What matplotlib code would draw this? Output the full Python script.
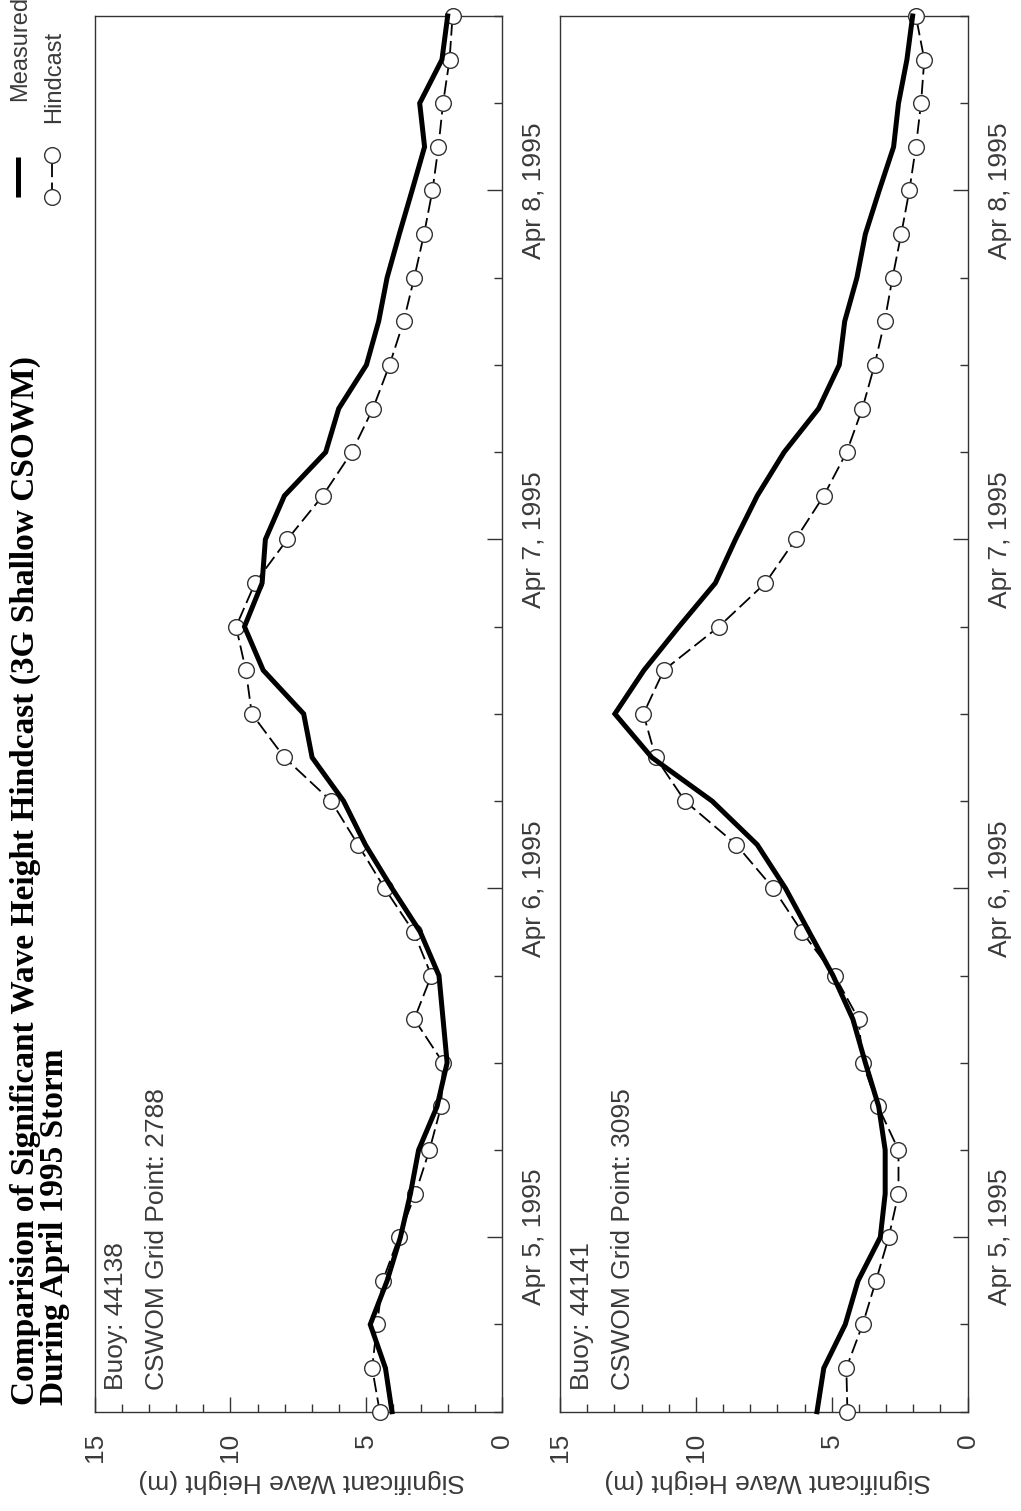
import matplotlib
matplotlib.use("Agg")
import matplotlib.pyplot as plt
from matplotlib.lines import Line2D

# ---------------- data ----------------
hours = [0, 3, 6, 9, 12, 15, 18, 21, 24, 27, 30, 33, 36, 39, 42, 45, 48,
         51, 54, 57, 60, 63, 66, 69, 72, 75, 78, 81, 84, 87, 90, 93, 96]
day_ticks = [12, 36, 60, 84]
day_labels = ["Apr 5, 1995", "Apr 6, 1995", "Apr 7, 1995", "Apr 8, 1995"]
six_hour_ticks = [0, 6, 18, 24, 30, 42, 48, 54, 66, 72, 78, 90, 96]
height_major = [0, 5, 10, 15]
height_labels = ["0", "5", "10", "15"]
height_minor = list(range(16))

buoys = ["44138", "44141"]
grid_points = ["2788", "3095"]

measured_44138 = [4.05, 4.29, 4.85, 4.23, 3.74, 3.37, 3.07, 2.39, 2.02, 2.17, 2.32,
                  3.01, 4.05, 5.03, 5.83, 6.99, 7.30, 8.79, 9.48, 8.83, 8.71, 8.01,
                  6.49, 6.01, 4.99, 4.54, 4.23, 3.78, 3.31, 2.85, 3.03, 2.21, 2.00]
hindcast_44138 = [4.50, 4.78, 4.60, 4.39, 3.80, 3.19, 2.67, 2.24, 2.17, 3.23, 2.60,
                  3.25, 4.32, 5.30, 6.29, 8.01, 9.21, 9.43, 9.79, 9.09, 7.90, 6.60,
                  5.53, 4.75, 4.14, 3.62, 3.23, 2.87, 2.56, 2.34, 2.17, 1.93, 1.82]
measured_44141 = [5.54, 5.29, 4.50, 4.03, 3.21, 3.03, 3.03, 3.27, 3.76, 4.22, 4.95,
                  5.83, 6.70, 7.74, 9.40, 11.62, 12.98, 11.91, 10.62, 9.28, 8.54, 7.74,
                  6.75, 5.48, 4.72, 4.52, 4.07, 3.76, 3.25, 2.72, 2.54, 2.23, 2.02]
hindcast_44141 = [4.42, 4.46, 3.86, 3.37, 2.90, 2.54, 2.54, 3.29, 3.86, 4.01, 4.89,
                  6.09, 7.15, 8.51, 10.40, 11.48, 11.93, 11.18, 9.15, 7.44, 6.33, 5.29,
                  4.45, 3.87, 3.42, 3.05, 2.76, 2.44, 2.14, 1.90, 1.71, 1.59, 1.90]

measured = [measured_44138, measured_44141]
hindcast = [hindcast_44138, hindcast_44141]

title_line1 = "Comparision of Significant Wave Height Hindcast (3G Shallow CSOWM)"
title_line2 = "During April 1995 Storm"
xlabel_text = "Significant Wave Height (m)"

# ---------------- figure ----------------
plt.rcParams['font.family'] = ['Liberation Sans', 'DejaVu Sans']
W, H = 1021, 1511
fig = plt.figure(figsize=(W / 100, H / 100), dpi=100)
fig.patch.set_facecolor('white')


def fx(px):
    return px / W


def fy(py):
    return 1 - py / H


TEXT = '#3a3a3a'
EDGE = '#333333'
FS = 19
panel_x = [(94.5, 502.0), (560.0, 967.5)]
top_px, bot_px = 16.0, 1411.7
pw = 407.5

for i in range(2):
    l, r = panel_x[i]
    ax = fig.add_axes([fx(l), fy(bot_px), (r - l) / W, (bot_px - top_px) / H])
    ax.plot(hindcast[i], hours, color='black', lw=1.3, dashes=(8, 3),
            marker='o', ms=11.3, mfc='white', mec=EDGE, mew=1.0,
            clip_on=False, zorder=3)
    ax.plot(measured[i], hours, color='black', lw=3.6, solid_joinstyle='miter',
            clip_on=False, zorder=4)
    ax.set_xlim(15, 0)
    ax.set_ylim(0, 96)

    ax.set_xticks(height_major, labels=height_labels)
    ax.set_xticks(height_minor, minor=True)
    ax.set_yticks(day_ticks, labels=day_labels)
    ax.set_yticks(six_hour_ticks, minor=True)

    ax.tick_params(axis='x', which='both', direction='in', bottom=True, top=False,
                   color=EDGE, width=1.0)
    ax.tick_params(axis='x', which='major', length=11, labelrotation=90, pad=15.5,
                   labelsize=FS, labelcolor=TEXT)
    ax.tick_params(axis='x', which='minor', length=5.5)
    ax.tick_params(axis='y', which='both', direction='in', left=False, right=True,
                   labelleft=False, labelright=True, color=EDGE, width=1.0)
    ax.tick_params(axis='y', which='major', length=11, labelrotation=90, pad=14.5,
                   labelsize=FS, labelcolor=TEXT)
    ax.tick_params(axis='y', which='minor', length=5.5)
    for t in ax.yaxis.get_major_ticks():
        t.label2.set_va('center')
        t.label2.set_ha('left')

    for s in ax.spines.values():
        s.set_color(EDGE)
        s.set_linewidth(1.0)

    ax.set_xlabel(xlabel_text, rotation=180, fontsize=FS, color=TEXT)
    ax.xaxis.label.set_va('center')
    ax.xaxis.set_label_coords(0.509, (bot_px - 1481) / (bot_px - top_px))

    y0 = (bot_px - 1390) / (bot_px - top_px)
    ax.text((116 - 94.5) / pw, y0, "Buoy: " + buoys[i], rotation=90,
            ha='center', va='bottom', fontsize=FS, color=TEXT, transform=ax.transAxes)
    ax.text((157 - 94.5) / pw, y0, "CSWOM Grid Point: " + grid_points[i],
            rotation=90, ha='center', va='bottom', fontsize=FS, color=TEXT,
            transform=ax.transAxes)

# title
fig.text(fx(25), fy(1405), title_line1, rotation=90, ha='center', va='bottom',
         family=['Liberation Serif', 'DejaVu Serif'], fontweight='bold', fontsize=24,
         color='black')
fig.text(fx(54.5), fy(1405), title_line2, rotation=90, ha='center', va='bottom',
         family=['Liberation Serif', 'DejaVu Serif'], fontweight='bold', fontsize=24,
         color='black')

# legend (drawn manually because it is rotated)
fig.add_artist(Line2D([fx(18), fx(18)], [fy(197), fy(157)], transform=fig.transFigure,
                      color='black', lw=3.6, solid_capstyle='butt'))
fig.add_artist(Line2D([fx(52), fx(52)], [fy(197), fy(155)], transform=fig.transFigure,
                      color='black', lw=1.3, dashes=(8, 3), marker='o', ms=11.3,
                      mfc='white', mec=EDGE, mew=1.0))
fig.text(fx(20), fy(101), "Measured", rotation=90, ha='center', va='bottom',
         fontsize=17, color=TEXT)
fig.text(fx(54), fy(123), "Hindcast", rotation=90, ha='center', va='bottom',
         fontsize=17, color=TEXT)

fig.savefig("out.png", dpi=100, facecolor='white')
